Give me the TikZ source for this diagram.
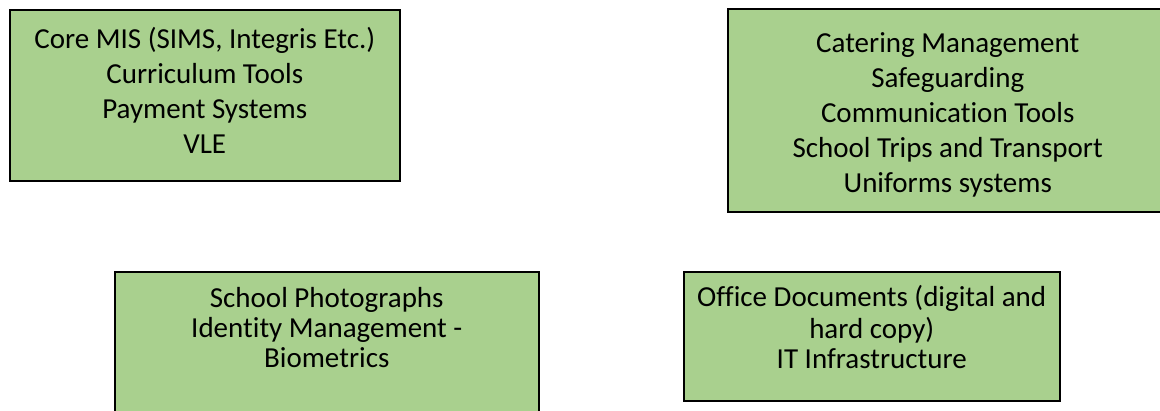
\documentclass[tikz,border=0pt]{standalone}
\usepackage{fontspec}
\setmainfont{Carlito}[Ligatures={NoCommon,NoContextual},Contextuals=NoAlternate]
\definecolor{appGreen}{RGB}{169,208,142}
\usetikzlibrary{positioning}

\begin{document}
\begin{tikzpicture}[x=1pt, y=-1pt,
  appbox/.style={draw, line width=1.5pt, fill=appGreen, anchor=north west,
                 inner sep=0pt, font=\fontsize{29}{35}\selectfont},
  tight/.style={font=\fontsize{29}{30}\selectfont}
]
  \useasboundingbox (0,0) rectangle (1160,410);

  % top row
  \node[appbox] (core) at (9,9)
    {\parbox[c][171pt][t]{390pt}{\centering\vspace*{14pt}\strut
      Core MIS (SIMS, Integris Etc.)\\ Curriculum Tools\\
      Payment Systems\\ VLE}};
  \node[appbox] (catering) at (727,8)
    {\parbox[c][203pt][t]{440pt}{\centering\vspace*{19pt}\strut
      Catering Management\\ Safeguarding\\ Communication Tools\\
      School Trips and Transport\\ Uniforms systems}};

  % bottom row
  \node[appbox, tight] (photos) at (114,271)
    {\parbox[c][170pt][t]{424pt}{\centering\vspace*{15pt}\strut
      School Photographs\\ Identity Management -\\ Biometrics}};
  \node[appbox, tight] (office) at (683,271)
    {\parbox[c][129pt][t]{376pt}{\centering\vspace*{14pt}\strut
      Office Documents (digital and\\ hard copy)\\ IT Infrastructure}};
\end{tikzpicture}
\end{document}
